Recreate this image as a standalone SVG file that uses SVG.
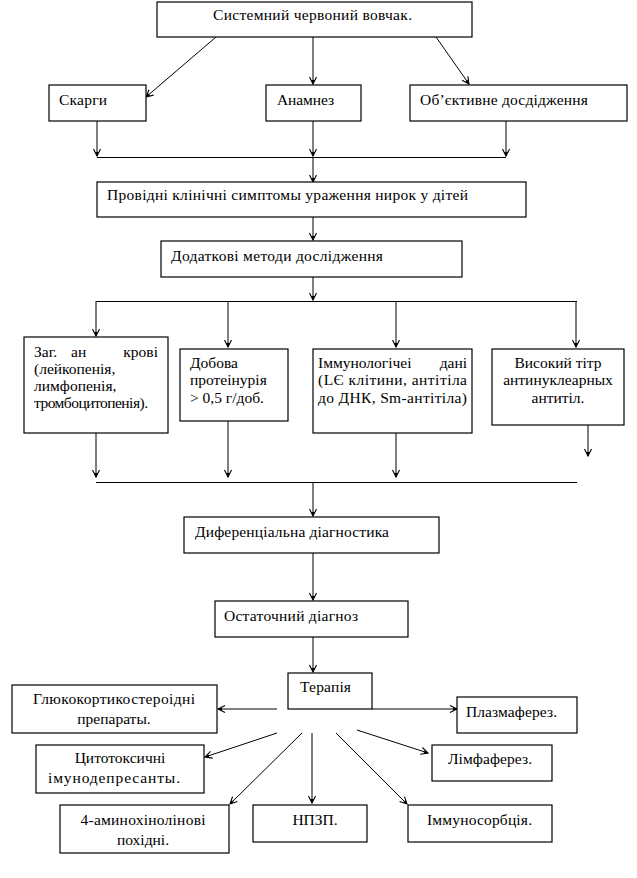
<svg xmlns="http://www.w3.org/2000/svg" width="637" height="878" viewBox="0 0 637 878">
<style>
rect.b{fill:#fff;stroke:#000;stroke-width:1.2}
.c{text-anchor:middle}
#connectors line,#connectors path{stroke:#000;stroke-width:1;fill:none}
#connectors .a{marker-end:url(#arr)}
</style>
<defs>
<marker id="arr" markerUnits="userSpaceOnUse" markerWidth="14" markerHeight="14" viewBox="-10 -7 14 14" refX="0" refY="0" orient="auto" overflow="visible">
<path d="M-7,-3.5 L0,0 L-7,3.5" fill="none" stroke="#000" stroke-width="1.1"/>
<path d="M-4,-1.6 L0,0 L-4,1.6 Z" fill="#000" stroke="none"/>
</marker>
</defs>
<rect width="637" height="878" fill="#fff"/>

<g id="connectors">
<line class="a" x1="216" y1="37" x2="146" y2="97"/>
<line class="a" x1="313" y1="37" x2="313" y2="84"/>
<line class="a" x1="436" y1="37" x2="469" y2="84"/>
<line class="a" x1="97" y1="121" x2="97" y2="156"/>
<line class="a" x1="313" y1="121" x2="313" y2="156"/>
<line class="a" x1="506" y1="121" x2="506" y2="156"/>
<line x1="97" y1="157.5" x2="506" y2="157.5"/>
<line class="a" x1="313" y1="157" x2="313" y2="182"/>
<line class="a" x1="313" y1="217" x2="313" y2="240"/>
<line class="a" x1="313" y1="277" x2="313" y2="300"/>
<line x1="96" y1="301.5" x2="577" y2="301.5"/>
<line class="a" x1="96" y1="301" x2="96" y2="336"/>
<line class="a" x1="228" y1="301" x2="228" y2="347"/>
<line class="a" x1="396" y1="301" x2="396" y2="347"/>
<line class="a" x1="576" y1="301" x2="576" y2="347"/>
<line class="a" x1="96" y1="433" x2="96" y2="477"/>
<line class="a" x1="228" y1="421" x2="228" y2="477"/>
<line class="a" x1="396" y1="433" x2="396" y2="477"/>
<line class="a" x1="588" y1="425" x2="588" y2="456"/>
<line x1="96" y1="482.5" x2="577" y2="482.5"/>
<line class="a" x1="313" y1="482" x2="313" y2="516"/>
<line class="a" x1="313" y1="553" x2="313" y2="600"/>
<line class="a" x1="313" y1="637" x2="313" y2="672"/>
<line class="a" x1="277" y1="709" x2="218" y2="709"/>
<line class="a" x1="372" y1="709" x2="457" y2="709"/>
<line class="a" x1="277" y1="733" x2="205" y2="757"/>
<line class="a" x1="302" y1="733" x2="230" y2="804"/>
<line class="a" x1="312" y1="733" x2="312" y2="803"/>
<line class="a" x1="336" y1="733" x2="407" y2="804"/>
<line class="a" x1="357" y1="730" x2="428" y2="753"/>
</g>

<g font-family="Liberation Serif, Times New Roman, serif" font-size="15.5" fill="#000">
<g id="n-svv"><rect class="b" x="157" y="2" width="315" height="35"/><text x="213" y="20" textLength="199">Системний червоний вовчак.</text></g>
<g id="n-skargy"><rect class="b" x="49" y="85" width="97" height="36"/><text x="59" y="105" textLength="48">Скарги</text></g>
<g id="n-anamnez"><rect class="b" x="266" y="85" width="95" height="36"/><text x="277" y="105" textLength="57">Анамнез</text></g>
<g id="n-obj"><rect class="b" x="410" y="85" width="217" height="36"/><text x="420" y="105" textLength="168">Об’єктивне досдідження</text></g>
<g id="n-provid"><rect class="b" x="97" y="182" width="429" height="35"/><text x="107" y="200" textLength="361">Провідні клінічні симптомы ураження нирок у дітей</text></g>
<g id="n-dodat"><rect class="b" x="161" y="241" width="301" height="36"/><text x="171" y="261" textLength="212">Додаткові методи дослідження</text></g>

<g id="n-zag"><rect class="b" x="24" y="337" width="144" height="96"/>
<text x="34" y="357">Заг.</text><text x="71" y="357">ан</text><text x="158" y="357" text-anchor="end">крові</text>
<text x="34" y="374">(лейкопенія,</text>
<text x="34" y="391">лимфопенія,</text>
<text x="34" y="408" textLength="114">тромбоцитопенія).</text></g>
<g id="n-dobova"><rect class="b" x="180" y="349" width="108" height="72"/>
<text x="190" y="368">Добова</text><text x="190" y="385">протеінурія</text><text x="190" y="403">&gt; 0,5 г/доб.</text></g>
<g id="n-immun"><rect class="b" x="313" y="349" width="159" height="84"/>
<text x="318" y="368">Іммунологічеі</text><text x="467" y="368" text-anchor="end">дані</text>
<text x="318" y="385" textLength="149">(LЄ клітини, антітіла</text>
<text x="318" y="403" textLength="149">до ДНК, Sm-антітіла)</text></g>
<g id="n-vysok"><rect class="b" x="492" y="349" width="132" height="76"/>
<text class="c" x="558" y="368">Високий тітр</text><text class="c" x="558" y="385">антинуклеарных</text><text class="c" x="558" y="403">антитіл.</text></g>

<g id="n-dyf"><rect class="b" x="184" y="517" width="255" height="36"/><text x="195" y="537" textLength="194">Диференціальна діагностика</text></g>
<g id="n-ostat"><rect class="b" x="215" y="601" width="193" height="36"/><text x="224" y="621" textLength="134">Остаточний діагноз</text></g>
<g id="n-terap"><rect class="b" x="288" y="673" width="84" height="36"/><text x="300" y="692" textLength="51">Терапія</text></g>

<g id="n-gluko"><rect class="b" x="12" y="685" width="205" height="48"/>
<text class="c" x="114" y="704" textLength="162">Глюкокортикостероідні</text><text class="c" x="114" y="724">препараты.</text></g>
<g id="n-plazma"><rect class="b" x="457" y="697" width="120" height="36"/><text x="466" y="717" textLength="91">Плазмаферез.</text></g>
<g id="n-cyto"><rect class="b" x="36" y="745" width="168" height="48"/>
<text class="c" x="120" y="763">Цитотоксичні</text><text class="c" x="114" y="783" textLength="132">імунодепресанты.</text></g>
<g id="n-limf"><rect class="b" x="432" y="745" width="120" height="36"/><text x="448" y="764" textLength="84">Лімфаферез.</text></g>
<g id="n-amino"><rect class="b" x="60" y="805" width="169" height="48"/>
<text class="c" x="143" y="825" textLength="125">4-аминохінолінові</text><text class="c" x="143" y="845">похідні.</text></g>
<g id="n-npzp"><rect class="b" x="253" y="805" width="114" height="37"/><text class="c" x="315" y="825">НПЗП.</text></g>
<g id="n-immsorb"><rect class="b" x="408" y="805" width="144" height="37"/><text x="427" y="825" textLength="105">Іммуносорбція.</text></g>
</g>
</svg>
